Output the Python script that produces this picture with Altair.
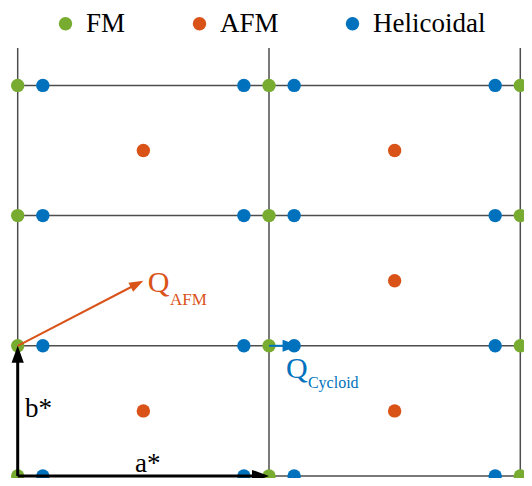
import math
import altair as alt
import pandas as pd

# ---------------- data (lattice units: a*, b*) ----------------
a_index = [0, 1, 2]
b_index = [0, 1, 2, 3]
helicoidal_a = [0.1, 0.9, 1.1, 1.9]
afm_a = [0.5, 1.5, 1.5, 0.5, 1.5]
afm_b = [0.5, 0.5, 1.5, 2.5, 2.5]
phases = ["FM", "AFM", "Helicoidal"]
phase_colors = ["#77AC30", "#D95319", "#0072BD"]

arrow_x0 = [0, 0, 0, 1]
arrow_y0 = [0, 0, 1, 1]
arrow_x1 = [1, 0, 0.5, 1.12]
arrow_y1 = [0, 1, 1.5, 1]
arrow_colors = ["#000000", "#000000", "#D95319", "#0072BD"]
arrow_widths = [3, 3, 2, 2]
arrow_heads = [1156, 1156, 800, 1100]

label_text = ["a*", "b*", "Q", "AFM", "Q", "Cycloid"]
label_x = [0.467, 0.029, 0.518, 0.606, 1.068, 1.155]
label_y = [0.031, 0.453, 1.413, 1.313, 0.753, 0.675]
label_color = ["#000000", "#000000", "#D95319", "#D95319", "#0072BD", "#0072BD"]
label_size = [27, 27, 30, 17, 30, 16]

# ---------------- layout ----------------
W, H = 516, 470
px_x, px_y = 251.3, 130.2        # pixels per lattice unit
ox, oy = 9.7, 468.0              # pixel position of lattice origin in the plot area
xdom = [-ox / px_x, (W - ox) / px_x]
ydom = [(oy - H) / px_y, oy / px_y]

xs = alt.Scale(domain=xdom, nice=False, zero=False)
ys = alt.Scale(domain=ydom, nice=False, zero=False)

# grid lines
hlines = pd.DataFrame({"x": [0] * len(b_index), "x2": [xdom[1]] * len(b_index),
                       "y": b_index, "y2": b_index})
vlines = pd.DataFrame({"x": a_index, "x2": a_index,
                       "y": [ydom[0]] * len(a_index), "y2": [3.287] * len(a_index)})
grid_df = pd.concat([hlines, vlines], ignore_index=True)

grid = alt.Chart(grid_df).mark_rule(color="#4d4d4d", strokeWidth=1.5).encode(
    x=alt.X("x:Q", scale=xs, axis=None),
    x2="x2:Q",
    y=alt.Y("y:Q", scale=ys, axis=None),
    y2="y2:Q",
)

# points
rows = []
for b in b_index:
    for a in a_index:
        rows.append({"a": a, "b": b, "phase": "FM"})
for b in b_index:
    for a in helicoidal_a:
        rows.append({"a": a, "b": b, "phase": "Helicoidal"})
for a, b in zip(afm_a, afm_b):
    rows.append({"a": a, "b": b, "phase": "AFM"})
pts_df = pd.DataFrame(rows)

points = alt.Chart(pts_df).mark_circle(size=180, opacity=1).encode(
    x=alt.X("a:Q", scale=xs, axis=None),
    y=alt.Y("b:Q", scale=ys, axis=None),
    color=alt.Color(
        "phase:N",
        scale=alt.Scale(domain=phases, range=phase_colors),
        legend=alt.Legend(
            orient="none", legendX=44, legendY=2, direction="horizontal",
            title=None, labelFont="Liberation Serif", labelFontSize=27,
            labelColor="black", symbolSize=180, symbolType="circle",
            symbolStrokeWidth=0, symbolOpacity=1, labelOffset=7,
            columnPadding=60, padding=0, labelLimit=300,
        ),
    ),
)

# arrows
arrow_layers = []
head_path = "M0,0L-1,-0.36L-1,0.36Z"
for x0, y0, x1, y1, c, w, hs in zip(arrow_x0, arrow_y0, arrow_x1, arrow_y1,
                                     arrow_colors, arrow_widths, arrow_heads):
    ang = math.degrees(math.atan2(-(y1 - y0) * px_y, (x1 - x0) * px_x)) % 360
    r = math.sqrt(hs) / 2
    f = 1 - (0.7 * r) / math.hypot((x1 - x0) * px_x, (y1 - y0) * px_y)
    sdf = pd.DataFrame({"x": [x0], "y": [y0],
                        "x2": [x0 + (x1 - x0) * f], "y2": [y0 + (y1 - y0) * f]})
    arrow_layers.append(
        alt.Chart(sdf).mark_rule(color=c, strokeWidth=w).encode(
            x=alt.X("x:Q", scale=xs, axis=None), x2="x2:Q",
            y=alt.Y("y:Q", scale=ys, axis=None), y2="y2:Q")
    )
    hdf = pd.DataFrame({"x": [x1], "y": [y1], "ang": [ang]})
    arrow_layers.append(
        alt.Chart(hdf).mark_point(shape=head_path, filled=True, size=hs,
                                  color=c, opacity=1, strokeWidth=0).encode(
            x=alt.X("x:Q", scale=xs, axis=None),
            y=alt.Y("y:Q", scale=ys, axis=None),
            angle=alt.Angle("ang:Q", scale=None))
    )

# labels
text_layers = []
for t, x, y, c, s in zip(label_text, label_x, label_y, label_color, label_size):
    tdf = pd.DataFrame({"x": [x], "y": [y], "t": [t]})
    text_layers.append(
        alt.Chart(tdf).mark_text(align="left", baseline="alphabetic",
                                 font="Liberation Serif", fontSize=s, color=c).encode(
            x=alt.X("x:Q", scale=xs, axis=None),
            y=alt.Y("y:Q", scale=ys, axis=None),
            text="t:N")
    )

chart = alt.layer(grid, points, *arrow_layers, *text_layers).properties(
    width=W, height=H, padding=0,
    autosize=alt.AutoSizeParams(type="none"),
    background="white",
).configure_view(stroke=None)

chart.save("out.html", embed_options={"renderer": "svg", "actions": False})
